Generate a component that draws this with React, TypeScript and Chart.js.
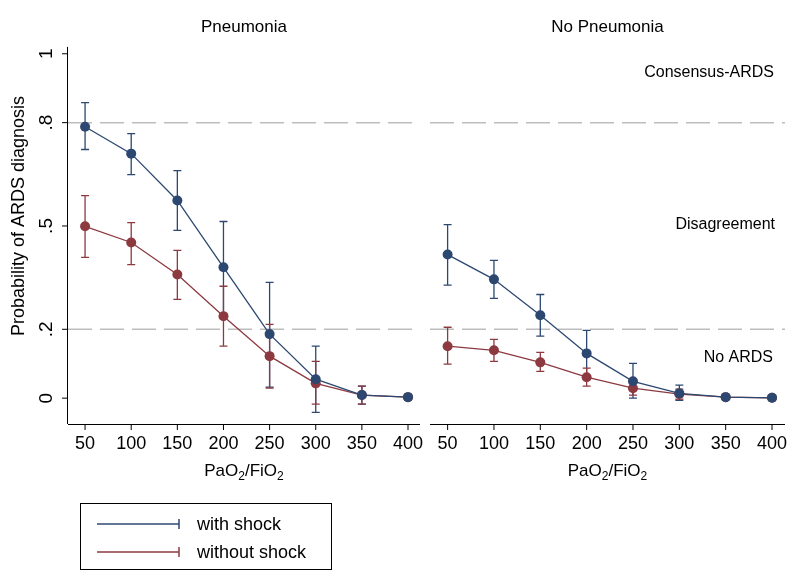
import React, { useEffect, useRef } from "react";
import { Chart, registerables } from "chart.js";
Chart.register(...registerables);

const xVals = [50, 100, 150, 200, 250, 300, 350, 400];
const yTicks = [0, 0.2, 0.5, 0.8, 1];
const yTickLabels = ["0", ".2", ".5", ".8", "1"];
const refLines = [0.2, 0.8];

const pnWith = [0.788, 0.71, 0.574, 0.38, 0.186, 0.055, 0.009, 0.003];
const pnWithLo = [0.722, 0.649, 0.487, 0.246, 0.032, -0.041, -0.017, 0.001];
const pnWithHi = [0.858, 0.768, 0.661, 0.513, 0.336, 0.151, 0.035, 0.005];
const pnWithout = [0.499, 0.452, 0.359, 0.238, 0.122, 0.043, 0.009, 0.003];
const pnWithoutLo = [0.409, 0.388, 0.287, 0.151, 0.029, -0.017, -0.017, 0.001];
const pnWithoutHi = [0.588, 0.51, 0.429, 0.325, 0.214, 0.107, 0.035, 0.005];

const npWith = [0.417, 0.345, 0.241, 0.13, 0.049, 0.014, 0.003, 0.001];
const npWithLo = [0.328, 0.29, 0.18, 0.064, 0.0, -0.006, 0.001, 0.0];
const npWithHi = [0.504, 0.4, 0.301, 0.197, 0.101, 0.038, 0.006, 0.002];
const npWithout = [0.151, 0.139, 0.104, 0.061, 0.029, 0.012, 0.003, 0.001];
const npWithoutLo = [0.099, 0.107, 0.078, 0.035, 0.009, -0.003, 0.001, 0.0];
const npWithoutHi = [0.206, 0.171, 0.133, 0.087, 0.049, 0.026, 0.006, 0.002];

const C_WITH = "#2c4870";
const C_WITHOUT = "#8c3a40";
const FONT = "'Liberation Sans', Arial, sans-serif";

type Panel = {
  title: string;
  withV: number[]; withLo: number[]; withHi: number[];
  woV: number[]; woLo: number[]; woHi: number[];
  yAxis: boolean;
  annotations: boolean;
};

function PanelChart({ p, width, padding, xmin, xmax }: { p: Panel; width: number; padding: any; xmin: number; xmax: number }) {
  const ref = useRef<HTMLCanvasElement>(null);
  useEffect(() => {
    const bars = [
      { lo: p.withLo, hi: p.withHi, c: C_WITH },
      { lo: p.woLo, hi: p.woHi, c: C_WITHOUT },
    ];
    const plugin = {
      id: "custom",
      beforeDatasetsDraw(chart: any) {
        const ctx = chart.ctx;
        const xs = chart.scales.x, ys = chart.scales.y;
        const a = chart.chartArea;
        ctx.save();
        ctx.strokeStyle = "#bdbdbd";
        ctx.lineWidth = 1.5;
        ctx.setLineDash([24, 8]);
        refLines.forEach((v) => {
          const y = ys.getPixelForValue(v);
          ctx.beginPath(); ctx.moveTo(a.left, y); ctx.lineTo(a.right, y); ctx.stroke();
        });
        ctx.setLineDash([]);
        bars.forEach((b) => {
          ctx.strokeStyle = b.c; ctx.lineWidth = 1.3;
          xVals.forEach((xv, i) => {
            const x = xs.getPixelForValue(xv);
            const y1 = ys.getPixelForValue(b.lo[i]);
            const y2 = ys.getPixelForValue(b.hi[i]);
            ctx.beginPath();
            ctx.moveTo(x, y1); ctx.lineTo(x, y2);
            ctx.moveTo(x - 4, y1); ctx.lineTo(x + 4, y1);
            ctx.moveTo(x - 4, y2); ctx.lineTo(x + 4, y2);
            ctx.stroke();
          });
        });
        ctx.strokeStyle = "#000"; ctx.lineWidth = 1;
        ctx.beginPath(); ctx.moveTo(a.left, a.bottom + 0.5); ctx.lineTo(a.right, a.bottom + 0.5); ctx.stroke();
        ctx.fillStyle = "#000";
        ctx.font = `18px ${FONT}`;
        ctx.textAlign = "center"; ctx.textBaseline = "middle";
        xVals.forEach((xv) => {
          const x = xs.getPixelForValue(xv);
          ctx.beginPath(); ctx.moveTo(x, a.bottom); ctx.lineTo(x, a.bottom + 6); ctx.stroke();
          ctx.fillText(String(xv), x, a.bottom + 20);
        });
        const cx = (a.left + a.right) / 2;
        const ty = a.bottom + 47;
        const parts: [string, boolean][] = [["PaO", false], ["2", true], ["/FiO", false], ["2", true]];
        const w = parts.reduce((s, [t, sub]) => { ctx.font = `${sub ? 12 : 17}px ${FONT}`; return s + ctx.measureText(t).width; }, 0);
        let px = cx - w / 2;
        ctx.textAlign = "left";
        parts.forEach(([t, sub]) => {
          ctx.font = `${sub ? 12 : 17}px ${FONT}`;
          ctx.fillText(t, px, sub ? ty + 6 : ty);
          px += ctx.measureText(t).width;
        });
        ctx.font = `17px ${FONT}`; ctx.textAlign = "center";
        ctx.fillText(p.title, cx, 27);
        if (p.yAxis) {
          ctx.beginPath(); ctx.moveTo(a.left - 0.5, ys.getPixelForValue(1.02)); ctx.lineTo(a.left - 0.5, a.bottom); ctx.stroke();
          yTicks.forEach((v, i) => {
            const y = ys.getPixelForValue(v);
            ctx.beginPath(); ctx.moveTo(a.left - 6, y); ctx.lineTo(a.left, y); ctx.stroke();
            ctx.save(); ctx.translate(a.left - 21, y); ctx.rotate(-Math.PI / 2);
            ctx.font = `19px ${FONT}`; ctx.fillText(yTickLabels[i], 0, 0); ctx.restore();
          });
          ctx.save(); ctx.translate(19, 216); ctx.rotate(-Math.PI / 2);
          ctx.font = `18px ${FONT}`; ctx.fillText("Probability of ARDS diagnosis", 0, 0); ctx.restore();
        }
        if (p.annotations) {
          ctx.font = `16px ${FONT}`; ctx.textAlign = "right";
          ctx.fillText("Consensus-ARDS", a.right - 11, 73);
          ctx.fillText("Disagreement", a.right - 10, 225);
          ctx.fillText("No ARDS", a.right - 12, 358);
        }
        ctx.restore();
      },
    };
    const mk = (v: number[], c: string) => ({
      data: xVals.map((x, i) => ({ x, y: v[i] })),
      borderColor: c, backgroundColor: c, borderWidth: 1.3,
      pointRadius: 5, pointBorderWidth: 0, pointBackgroundColor: c, tension: 0,
    });
    const chart = new Chart(ref.current!, {
      type: "line",
      data: { datasets: [mk(p.withV, C_WITH), mk(p.woV, C_WITHOUT)] as any },
      options: {
        animation: false, responsive: false, maintainAspectRatio: false,
        layout: { padding },
        plugins: { legend: { display: false }, tooltip: { enabled: false } },
        scales: {
          x: { type: "linear", min: xmin, max: xmax, display: false },
          y: { min: -0.075, max: 1.04, display: false },
        },
      },
      plugins: [plugin],
    });
    return () => chart.destroy();
  }, []);
  return <canvas ref={ref} width={width} height={580} style={{ width, height: 580, display: "block" }} />;
}

function LegendItem({ color, label }: { color: string; label: string }) {
  return (
    <div style={{ display: "flex", alignItems: "center", height: 28 }}>
      <svg width={100} height={14} style={{ marginLeft: 16 }}>
        <line x1={0} y1={7} x2={82} y2={7} stroke={color} strokeWidth={1.5} />
        <line x1={82} y1={2} x2={82} y2={12} stroke={color} strokeWidth={1.5} />
      </svg>
      <span style={{ fontSize: 18 }}>{label}</span>
    </div>
  );
}

export default function App() {
  const left: Panel = { title: "Pneumonia", withV: pnWith, withLo: pnWithLo, withHi: pnWithHi, woV: pnWithout, woLo: pnWithoutLo, woHi: pnWithoutHi, yAxis: true, annotations: false };
  const right: Panel = { title: "No Pneumonia", withV: npWith, withLo: npWithLo, withHi: npWithHi, woV: npWithout, woLo: npWithoutLo, woHi: npWithoutHi, yAxis: false, annotations: true };
  return (
    <div style={{ position: "fixed", left: 0, top: 0, width: 798, height: 580, background: "#fff", fontFamily: FONT }}>
      <div style={{ position: "absolute", left: 0, top: 0 }}>
        <PanelChart p={left} width={425} padding={{ left: 68, right: 3, top: 40, bottom: 156 }} xmin={31.5} xmax={413} />
      </div>
      <div style={{ position: "absolute", left: 425, top: 0 }}>
        <PanelChart p={right} width={373} padding={{ left: 3, right: 13, top: 40, bottom: 156 }} xmin={31} xmax={414} />
      </div>
      <div style={{ position: "absolute", left: 80, top: 503, width: 252, height: 67, border: "1px solid #000", paddingTop: 6, boxSizing: "border-box" }}>
        <LegendItem color={C_WITH} label="with shock" />
        <LegendItem color={C_WITHOUT} label="without shock" />
      </div>
    </div>
  );
}
